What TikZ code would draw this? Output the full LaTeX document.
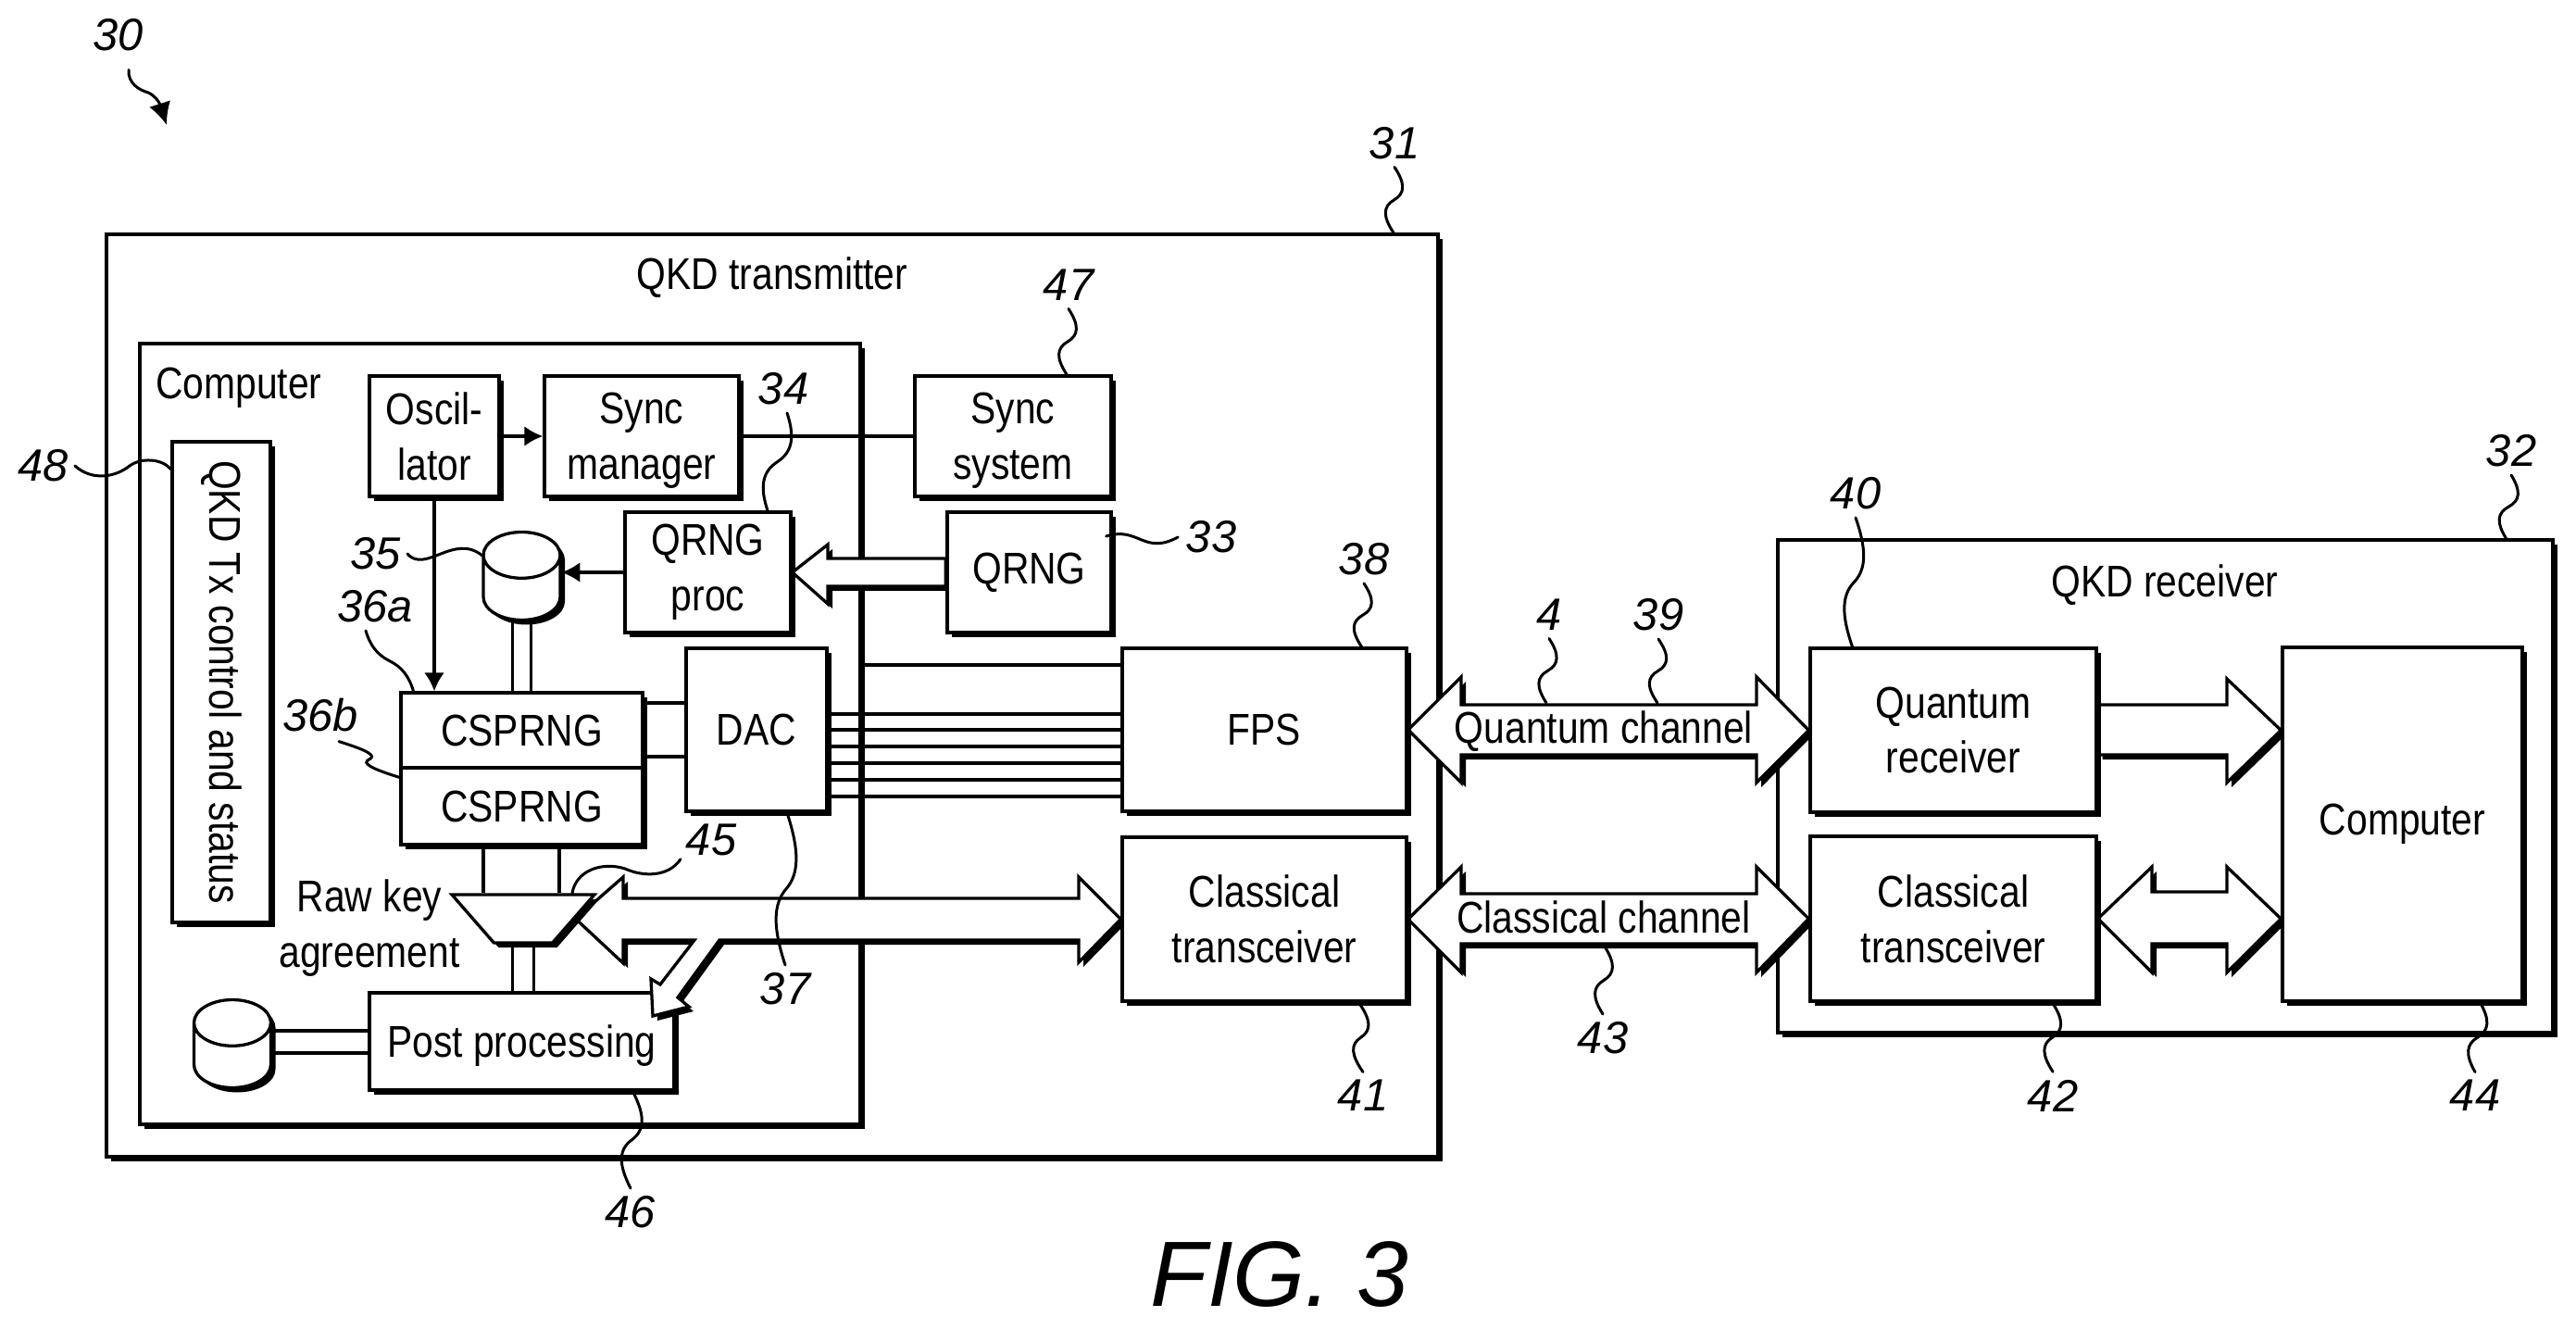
\documentclass[tikz,border=0pt]{standalone}
\usepackage{fontspec}
\setmainfont{Liberation Sans}[FakeStretch=0.85]
\newfontfamily\numfont{Liberation Sans}
\usetikzlibrary{shapes.geometric,arrows.meta,shadows,calc}

\pgfdeclarelayer{back}
\pgfdeclarelayer{buses}
\pgfsetlayers{back,buses,main}

\begin{document}
\begin{tikzpicture}[
    boxtext/.style={font=\fontsize{13.66}{17}\selectfont, align=center, inner sep=0pt},
    solidshadow/.style={general shadow={shadow xshift=.05cm, shadow yshift=-.05cm, fill=black}},
    block/.style={rectangle, draw=black, fill=white, line width=.033cm, solidshadow, boxtext},
    store/.style={cylinder, shape border rotate=90, shape aspect=.6, anchor=shape center, draw=black, fill=white, line width=.033cm, solidshadow, inner xsep=.415cm, inner ysep=.19cm, minimum width=.83cm, minimum height=.95cm},
    bus/.style={draw=black, fill=white, line width=.033cm, line join=miter, solidshadow},
    line/.style={draw=black, line width=.035cm},
    refnum/.style={font=\numfont\itshape\fontsize{13.9}{16}\selectfont, inner sep=0pt},
    leader/.style={draw=black, line width=.03cm, line cap=round},
    wavy/.style={to path={.. controls ($(\tikztostart)!.25!(\tikztotarget)+(#1,0)$) and ($(\tikztostart)!.4!(\tikztotarget)+(#1,0)$) .. ($(\tikztostart)!.5!(\tikztotarget)$) .. controls ($(\tikztostart)!.6!(\tikztotarget)-(#1,0)$) and ($(\tikztostart)!.75!(\tikztotarget)-(#1,0)$) .. (\tikztotarget)}}
]
\useasboundingbox (0,0) rectangle (27.82,-14.35);

% Outer boxes and post processing lie under the buses
\begin{pgfonlayer}{back}
\node[block, minimum width=14.38cm, minimum height=9.96cm] (transmitter) at (8.34,-7.51) {};
\node[block, minimum width=8.37cm, minimum height=5.32cm] (receiver) at (23.385,-8.49) {};
\node[block, minimum width=7.78cm, minimum height=8.43cm] (txcomputer) at (5.40,-7.925) {};
\node[block, minimum width=3.29cm, minimum height=1.05cm, text depth=0pt] (post) at (5.635,-11.245) {Post processing};
\end{pgfonlayer}

% Titles of the outer boxes
\node[boxtext] (txtitle) at (8.34,-3.00) {QKD transmitter};
\node[boxtext] (rxtitle) at (23.38,-6.32) {QKD receiver};
\node[boxtext] (comptitle) at (2.58,-4.19) {Computer};

% Computer blocks
\node[block, minimum width=1.06cm, minimum height=5.19cm] (control) at (2.39,-7.365) {};
\node[boxtext, rotate=-90] (controltext) at (control) {QKD Tx control and status};
\node[block, minimum width=1.40cm, minimum height=1.30cm] (osc) at (4.69,-4.71) {Oscil-\\lator};
\node[block, minimum width=2.10cm, minimum height=1.30cm, text depth=0pt] (syncman) at (6.93,-4.71) {Sync\\manager};
\node[block, minimum width=1.79cm, minimum height=1.30cm] (qrngproc) at (7.645,-6.18) {QRNG\\proc};
\node[store] (seedstore) at (5.635,-6.22) {};
\node[block, minimum width=2.61cm, minimum height=.81cm] (csa) at (5.635,-7.885) {CSPRNG};
\node[block, minimum width=2.61cm, minimum height=.83cm] (csb) at (5.635,-8.705) {CSPRNG};
\node[block, minimum width=1.52cm, minimum height=1.76cm] (dac) at (8.17,-7.88) {DAC};
\node[trapezium, shape border rotate=180, trapezium stretches=true, trapezium angle=60, draw=black, fill=white, line width=.033cm, solidshadow, inner sep=0pt, minimum width=1.54cm, minimum height=.52cm] (rawkey) at (5.65,-9.92) {\phantom{x}};
\node[boxtext] (rawkeytext) at (3.99,-10.02) {Raw key\\agreement};
\node[store] (keystore) at (2.51,-11.27) {};

% Blocks of the transmitter outside the computer
\node[block, minimum width=2.12cm, minimum height=1.30cm, text depth=0pt] (syncsys) at (10.94,-4.71) {Sync\\system};
\node[block, minimum width=1.77cm, minimum height=1.30cm] (qrng) at (11.115,-6.18) {QRNG};
\node[block, minimum width=3.07cm, minimum height=1.76cm] (fps) at (13.655,-7.88) {FPS};
\node[block, minimum width=3.07cm, minimum height=1.77cm] (txclass) at (13.655,-9.925) {Classical\\transceiver};

% Receiver blocks
\node[block, minimum width=3.09cm, minimum height=1.77cm] (qreceiver) at (21.095,-7.885) {Quantum\\receiver};
\node[block, minimum width=3.09cm, minimum height=1.78cm] (rxclass) at (21.095,-9.92) {Classical\\transceiver};
\node[block, minimum width=2.59cm, minimum height=3.82cm] (rxcomputer) at (25.945,-8.90) {Computer};

% Block arrows
\begin{pgfonlayer}{buses}
\draw[bus] ([yshift=.15cm]qrng.west) -- (8.94,-6.03) -- (8.94,-5.88) -- (qrngproc.east) -- (8.94,-6.52) -- (8.94,-6.33) -- ([yshift=-.15cm]qrng.west) -- cycle;
\draw[bus] (fps.east) -- (15.78,-7.31) -- (15.78,-7.61) -- (18.97,-7.61) -- (18.97,-7.31) -- (qreceiver.west) -- (18.97,-8.45) -- (18.97,-8.15) -- (15.78,-8.15) -- (15.78,-8.45) -- cycle;
\draw[bus] (txclass.east) -- (15.78,-9.36) -- (15.78,-9.65) -- (18.97,-9.65) -- (18.97,-9.36) -- (rxclass.west) -- (18.97,-10.50) -- (18.97,-10.19) -- (15.78,-10.19) -- (15.78,-10.50) -- cycle;
\draw[bus] ([yshift=.275cm]qreceiver.east) -- (24.05,-7.61) -- (24.05,-7.33) -- (rxcomputer.west |- qreceiver) -- (24.05,-8.45) -- (24.05,-8.15) -- ([yshift=-.265cm]qreceiver.east) -- cycle;
\draw[bus] (rxclass.east) -- (23.24,-9.36) -- (23.24,-9.63) -- (24.05,-9.63) -- (24.05,-9.36) -- (rxcomputer.west |- rxclass) -- (24.05,-10.50) -- (24.05,-10.19) -- (23.24,-10.19) -- (23.24,-10.50) -- cycle;
\draw[bus] (rawkey.east) -- (6.73,-9.47) -- (6.73,-9.70) -- (11.65,-9.70) -- (11.65,-9.47) -- (txclass.west) -- (11.65,-10.39) -- (11.65,-10.15) -- (7.77,-10.15) -- (7.32,-10.77) -- (7.44,-10.87) -- (7.05,-10.97) -- (7.03,-10.57) -- (7.13,-10.63) -- (7.50,-10.15) -- (6.73,-10.15) -- (6.73,-10.40) -- cycle;
\end{pgfonlayer}

\node[boxtext] (qchannel) at (17.32,-7.90) {Quantum channel};
\node[boxtext] (cchannel) at (17.32,-9.90) {Classical channel};

% Connections
\draw[line, -{Latex[length=.2cm,width=.22cm]}] (osc) -- (syncman);
\draw[line] (syncman) -- (syncsys);
\draw[line, -{Latex[length=.2cm,width=.22cm]}] (osc) -- (osc |- csa.north);
\draw[line, -{Latex[length=.2cm,width=.22cm]}] (qrngproc) -- (qrngproc -| seedstore.east);
\draw[line] ([xshift=-.1cm]seedstore.bottom) -- ([xshift=-.1cm]seedstore.bottom |- csa.north);
\draw[line] ([xshift=.1cm]seedstore.bottom) -- ([xshift=.1cm]seedstore.bottom |- csa.north);
\draw[line] ([yshift=.295cm]csa.east) -- ([yshift=.295cm]csa.east -| dac.west);
\draw[line] ([yshift=-.285cm]csa.east) -- ([yshift=-.285cm]csa.east -| dac.west);
\draw[line] ([xshift=-.415cm]csb.south) -- ([xshift=-.415cm]csb.south |- rawkey.north);
\draw[line] ([xshift=.405cm]csb.south) -- ([xshift=.405cm]csb.south |- rawkey.north);
\draw[line] ([xshift=-.1cm]post.north) -- ([xshift=-.1cm]post.north |- rawkey.south);
\draw[line] ([xshift=.13cm]post.north) -- ([xshift=.13cm]post.north |- rawkey.south);
\draw[line] (keystore.east |- 0,-11.13) -- (post.west |- 0,-11.13);
\draw[line] (keystore.east |- 0,-11.37) -- (post.west |- 0,-11.37);

% DAC and computer to FPS
\draw[line] ([yshift=.70cm]txcomputer.east |- fps) -- ([yshift=.70cm]fps.west);
\foreach \lane in {.17,0,-.18,-.36,-.54,-.72} {
    \draw[line] ([yshift=\lane cm]dac.east) -- ([yshift=\lane cm]dac.east -| fps.west);
}

% Reference numerals
\node[refnum] (n30) at (1.28,-.375) {30};
\node[refnum] (n31) at (15.06,-1.545) {31};
\node[refnum] (n32) at (27.12,-4.87) {32};
\node[refnum] (n33) at (13.08,-5.80) {33};
\node[refnum] (n34) at (8.46,-4.20) {34};
\node[refnum] (n35) at (4.06,-5.98) {35};
\node[refnum] (n36a) at (4.05,-6.55) {36a};
\node[refnum] (n36b) at (3.46,-7.72) {36b};
\node[refnum] (n37) at (8.48,-10.68) {37};
\node[refnum] (n38) at (14.73,-6.04) {38};
\node[refnum] (n4) at (16.73,-6.64) {4};
\node[refnum] (n39) at (17.91,-6.64) {39};
\node[refnum] (n40) at (20.04,-5.33) {40};
\node[refnum] (n41) at (14.72,-11.83) {41};
\node[refnum] (n42) at (22.17,-11.83) {42};
\node[refnum] (n43) at (17.31,-11.21) {43};
\node[refnum] (n44) at (26.73,-11.83) {44};
\node[refnum] (n45) at (7.68,-9.07) {45};
\node[refnum] (n46) at (6.81,-13.09) {46};
\node[refnum] (n47) at (11.54,-3.08) {47};
\node[refnum] (n48) at (.47,-5.03) {48};
\node[font=\numfont\itshape\fontsize{28.5}{32}\selectfont, inner sep=0pt] (figlabel) at (13.82,-13.76) {FIG. 3};

% Leaders
\draw[leader, -{Latex[length=.24cm,width=.24cm]}] ([shift={(.11,-.2)}]n30.south) .. controls (1.38,-.9) and (1.5,-.97) .. (1.6,-1.0) .. controls (1.67,-1.03) and (1.72,-1.1) .. (1.8,-1.35);
\draw[leader] ([yshift=-.08cm]n31.south) to[wavy=.12] ([xshift=6.71cm]transmitter.north);
\draw[leader] ([yshift=-.08cm]n32.south) to[wavy=.12] ([xshift=3.68cm]receiver.north);
\draw[leader] ([xshift=-.07cm,yshift=.39cm]qrng.east) .. controls (12.3,-5.68) and (12.35,-6.0) .. ([xshift=-.08cm]n33.west);
\draw[leader] ([shift={(.04,-.08)}]n34.south) to[wavy=.14] ([xshift=.645cm]qrngproc.north);
\draw[leader] ([xshift=.06cm]n35.east) .. controls (4.6,-6.2) and (4.9,-5.75) .. (5.21,-6.0);
\draw[leader] ([shift={(-.1,-.08)}]n36a.south) to[wavy=-.08] ([xshift=-1.17cm]csa.north);
\draw[leader] ([shift={(.2,-.1)}]n36b.south) to[wavy=.15] ([yshift=-.12cm]csb.north west);
\draw[leader] ([xshift=.33cm]dac.south) to[wavy=.14] ([yshift=.08cm]n37.north);
\draw[leader] ([yshift=-.08cm]n38.south) to[wavy=.12] ([xshift=1.05cm]fps.north);
\draw[leader] ([yshift=-.08cm]n4.south) to[wavy=.12] (16.70,-7.59);
\draw[leader] ([yshift=-.08cm]n39.south) to[wavy=.12] (17.90,-7.59);
\draw[leader] ([yshift=-.08cm]n40.south) to[wavy=.13] ([xshift=-1.09cm]qreceiver.north);
\draw[leader] ([xshift=1.02cm]txclass.south) to[wavy=.12] ([yshift=.08cm]n41.north);
\draw[leader] ([xshift=1.07cm]rxclass.south) to[wavy=.12] ([yshift=.08cm]n42.north);
\draw[leader] (17.33,-10.22) to[wavy=.12] ([yshift=.08cm]n43.north);
\draw[leader] ([xshift=.84cm]rxcomputer.south) to[wavy=.12] ([yshift=.08cm]n44.north);
\draw[leader] ([shift={(-.33,-.03)}]n45.south) .. controls (7.22,-9.47) and (6.95,-9.47) .. (6.75,-9.38) .. controls (6.5,-9.3) and (6.22,-9.4) .. ([xshift=.53cm]rawkey.north);
\draw[leader] ([xshift=1.2cm]post.south) to[wavy=.14] ([yshift=.08cm]n46.north);
\draw[leader] ([yshift=-.08cm]n47.south) to[wavy=.12] ([xshift=.58cm]syncsys.north);
\draw[leader] ([xshift=.06cm]n48.east) .. controls (1.0,-5.2) and (1.25,-5.15) .. (1.4,-5.03) .. controls (1.52,-4.94) and (1.75,-4.95) .. ([yshift=2.3cm]control.west);

\end{tikzpicture}
\end{document}
